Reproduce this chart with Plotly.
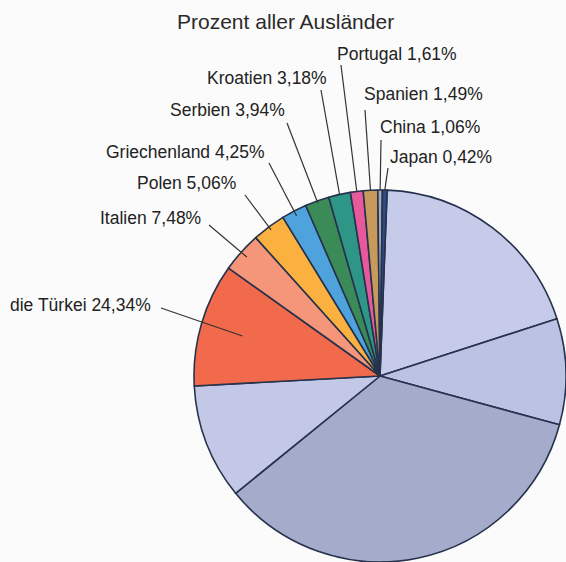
import math
import plotly.graph_objects as go

# ---- data ----
slice_names = ["Rest 1", "Rest 2", "Rest 3", "Rest 4", "die Türkei", "Italien", "Polen",
               "Griechenland", "Serbien", "Kroatien", "Portugal", "Spanien", "China", "Japan"]
slice_values = [19.4, 9.2, 34.9, 10.0, 10.7, 3.5, 2.9, 2.2, 2.1, 1.9, 1.1, 1.25, 0.4, 0.4]
slice_colors = ["#c6cbea", "#bcc2e3", "#a4abcb", "#c3c8e7", "#f06a4b", "#f5967a", "#fbb13f",
                "#4ea3dd", "#3a8b57", "#2d9686", "#e8599c", "#c79a5c", "#a6a9b8", "#2d4c86"]

label_names = ["die Türkei", "Italien", "Polen", "Griechenland", "Serbien",
               "Kroatien", "Portugal", "Spanien", "China", "Japan"]
label_pcts = ["24,34%", "7,48%", "5,06%", "4,25%", "3,94%",
              "3,18%", "1,61%", "1,49%", "1,06%", "0,42%"]

title_text = "Prozent aller Ausländer"

# ---- layout / style ----
W, H = 566, 562
rotation = 2.2
dom_x = [194 / W, 1.0]
dom_y = [0.0, 372 / H]
cx = (dom_x[0] + dom_x[1]) / 2 * W
cy = H - (dom_y[0] + dom_y[1]) / 2 * H
R = min((dom_x[1] - dom_x[0]) * W, (dom_y[1] - dom_y[0]) * H) / 2

# text left/center positions and leader start points (pixels)
label_pos = {
    "die Türkei": (8, 305), "Italien": (98, 218), "Polen": (135, 183),
    "Griechenland": (104, 152), "Serbien": (168, 110), "Kroatien": (205, 78),
    "Portugal": (335, 54), "Spanien": (362, 94), "China": (378, 127), "Japan": (388, 157),
}
line_start = {
    "die Türkei": (161, 308), "Italien": (209, 225), "Polen": (245, 195),
    "Griechenland": (269, 163), "Serbien": (287, 123), "Kroatien": (321, 90),
    "Portugal": (341, 65), "Spanien": (365, 110), "China": (381, 140), "Japan": (388, 168),
}
line_radius = {"die Türkei": 0.77, "Italien": 0.96, "Polen": 0.98, "Griechenland": 0.97,
               "Serbien": 0.99}

fig = go.Figure(go.Pie(
    labels=slice_names, values=slice_values, sort=False, direction="clockwise",
    rotation=rotation, textinfo="none", hoverinfo="label+percent",
    marker=dict(colors=slice_colors, line=dict(color="#27324d", width=1.6)),
    domain=dict(x=dom_x, y=dom_y), showlegend=False,
))

total = sum(slice_values)
cum = 0.0
mid_angle = {}
for n, v in zip(slice_names, slice_values):
    mid_angle[n] = rotation + 360.0 * (cum + v / 2) / total
    cum += v

px = lambda x: x / W
py = lambda y: 1 - y / H

shapes = []
annotations = []
for name, pct in zip(label_names, label_pcts):
    b = math.radians(mid_angle[name])
    f = line_radius.get(name, 1.0)
    ex = cx + f * R * math.sin(b)
    ey = cy - f * R * math.cos(b)
    sx, sy = line_start[name]
    shapes.append(dict(type="line", xref="paper", yref="paper",
                       x0=px(sx), y0=py(sy), x1=px(ex), y1=py(ey),
                       line=dict(color="#333333", width=1.2)))
    tx, ty = label_pos[name]
    annotations.append(dict(text=f"{name} {pct}", x=px(tx), y=py(ty), xref="paper", yref="paper",
                            xanchor="left", yanchor="middle", showarrow=False,
                            font=dict(family="Liberation Sans, Arial", size=17.5, color="#222222")))

annotations.append(dict(text=title_text, x=px(285), y=py(21), xref="paper", yref="paper",
                        xanchor="center", yanchor="middle", showarrow=False,
                        font=dict(family="Liberation Sans, Arial", size=21, color="#2a2a2a")))

fig.update_layout(
    width=W, height=H, margin=dict(l=0, r=0, t=0, b=0),
    paper_bgcolor="#fbfbfb", plot_bgcolor="#fbfbfb",
    shapes=shapes, annotations=annotations,
)

fig.write_html(
    "out.html",
    config={"displayModeBar": False},
    post_script="document.body.style.margin='0';document.body.style.overflow='hidden';",
)
